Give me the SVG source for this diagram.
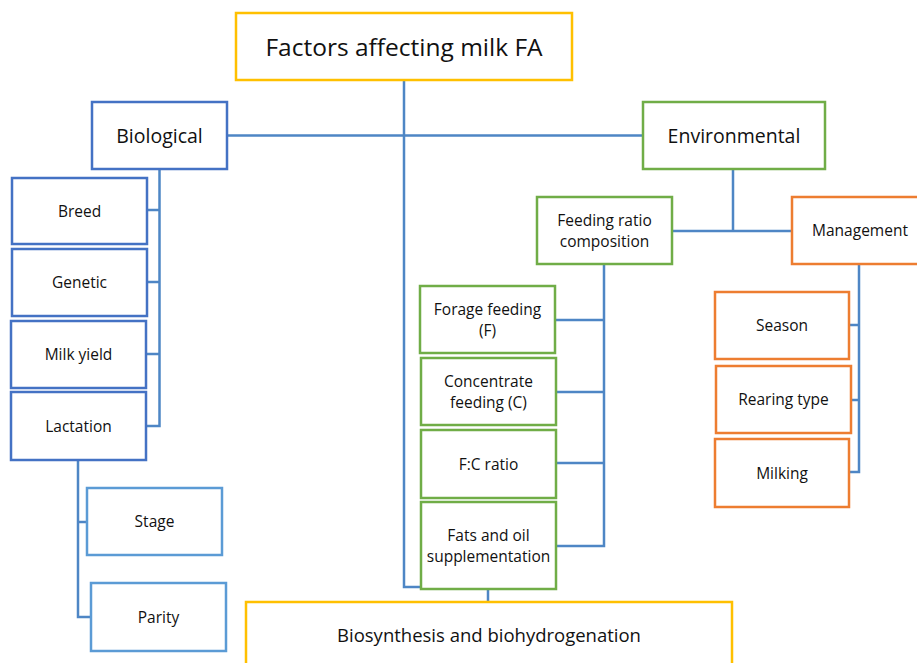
<svg xmlns="http://www.w3.org/2000/svg" width="917" height="663" viewBox="0 0 917 663">
<style>
.box{fill:#fff;stroke-width:2.5}
.y{stroke:#FFC000}.b{stroke:#4472C4}.lb{stroke:#5B9BD5}.g{stroke:#70AD47}.o{stroke:#ED7D31}
text{font-family:"Open Sans","Noto Sans",sans-serif;fill:#111;text-anchor:middle;dominant-baseline:central}
.t1{font-size:24.5px}.t2{font-size:19.5px}.t3{font-size:15.5px}.t4{font-size:18.5px}
#connectors path{fill:none;stroke:#4E86C5;stroke-width:2.5}
</style>
<rect width="917" height="663" fill="#fff"/>
<g id="connectors">
<path d="M404,80 V587 H421"/>
<path d="M227,135.5 H643"/>
<path d="M159.5,169 V426 H146 M147,210 H159.5 M147,282 H159.5 M146,354 H159.5"/>
<path d="M78,460 V617 H91 M78,522 H87"/>
<path d="M733,169 V231 M672,231 H792"/>
<path d="M604,264 V546 H556 M555,320 H604 M556,392 H604 M556,463 H604"/>
<path d="M859,264 V472 H849 M849,325 H859 M851,400 H859"/>
<path d="M488,589 V602"/>
</g>
<g id="top"><rect class="box y" x="236" y="13" width="336" height="67"/><text class="t1" x="404" y="46.5">Factors affecting milk FA</text></g>
<g id="biological"><rect class="box b" x="92" y="102" width="135" height="67"/><text class="t2" x="159.5" y="135">Biological</text></g>
<g id="breed"><rect class="box b" x="12" y="178" width="135" height="66"/><text class="t3" x="79.5" y="210.5">Breed</text></g>
<g id="genetic"><rect class="box b" x="12" y="249" width="135" height="67"/><text class="t3" x="79.5" y="282">Genetic</text></g>
<g id="milkyield"><rect class="box b" x="11" y="321" width="135" height="67"/><text class="t3" x="78.5" y="354">Milk yield</text></g>
<g id="lactation"><rect class="box b" x="11" y="392" width="135" height="68"/><text class="t3" x="78.5" y="425.5">Lactation</text></g>
<g id="stage"><rect class="box lb" x="87" y="488" width="135" height="67"/><text class="t3" x="154.5" y="521">Stage</text></g>
<g id="parity"><rect class="box lb" x="91" y="583" width="135" height="68"/><text class="t3" x="158.5" y="616.5">Parity</text></g>
<g id="environmental"><rect class="box g" x="643" y="102" width="182" height="67"/><text class="t2" x="734" y="135">Environmental</text></g>
<g id="feeding"><rect class="box g" x="537" y="197" width="135" height="67"/><text class="t3" x="604.5" y="219.5">Feeding ratio</text><text class="t3" x="604.5" y="240.5">composition</text></g>
<g id="management"><rect class="box o" x="792" y="197" width="136" height="67"/><text class="t3" x="860" y="230">Management</text></g>
<g id="forage"><rect class="box g" x="420" y="286" width="135" height="67"/><text class="t3" x="487.5" y="309">Forage feeding</text><text class="t3" x="487.5" y="330">(F)</text></g>
<g id="concentrate"><rect class="box g" x="421" y="358" width="135" height="67"/><text class="t3" x="488.5" y="381">Concentrate</text><text class="t3" x="488.5" y="402">feeding (C)</text></g>
<g id="fcratio"><rect class="box g" x="421" y="430" width="135" height="68"/><text class="t3" x="488.5" y="463.5">F:C ratio</text></g>
<g id="fats"><rect class="box g" x="421" y="502" width="135" height="87"/><text class="t3" x="488.5" y="534.5">Fats and oil</text><text class="t3" x="488.5" y="555.5">supplementation</text></g>
<g id="season"><rect class="box o" x="715" y="292" width="134" height="67"/><text class="t3" x="782" y="325">Season</text></g>
<g id="rearing"><rect class="box o" x="716" y="366" width="135" height="67"/><text class="t3" x="783.5" y="399">Rearing type</text></g>
<g id="milking"><rect class="box o" x="715" y="439" width="134" height="68"/><text class="t3" x="782" y="472.5">Milking</text></g>
<g id="biosynthesis"><rect class="box y" x="246" y="602" width="486" height="72"/><text class="t4" x="489" y="634.5">Biosynthesis and biohydrogenation</text></g>
</svg>
